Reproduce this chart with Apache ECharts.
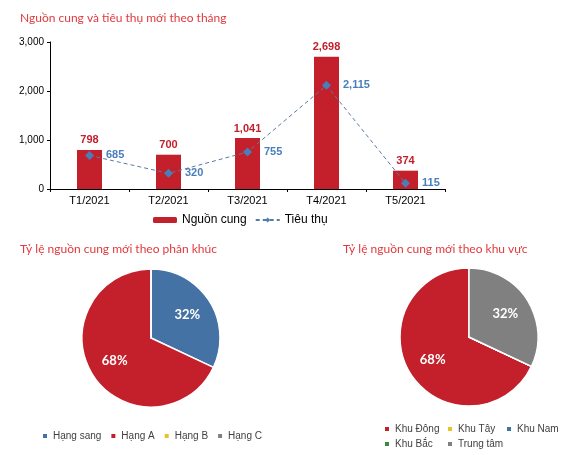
<!DOCTYPE html>
<html><head><meta charset="utf-8">
<script src="https://cdn.jsdelivr.net/npm/echarts@6/dist/echarts.min.js"></script>
<style>html,body{margin:0;padding:0;background:#fff}#c{width:567px;height:455px}</style>
</head><body><div id="c"></div>
<script>
const months = ['T1/2021','T2/2021','T3/2021','T4/2021','T5/2021'];
const supply = [798, 700, 1041, 2698, 374];
const sales = [685, 320, 755, 2115, 115];
const segNames = ['Hạng sang','Hạng A','Hạng B','Hạng C'];
const segValues = [32, 68, 0, 0];
const areaNames = ['Khu Đông','Khu Tây','Khu Nam','Khu Bắc','Trung tâm'];
const areaValues = [68, 0, 0, 0, 32];

const RED = '#C3202C', BLUE = '#4472A4', LBLUE = '#4A7EBB', GREY = '#808080', YEL = '#E8C228', GRN = '#3C8A3C';
const segColors = [BLUE, RED, YEL, GREY];
const areaColors = [RED, YEL, BLUE, GRN, GREY];
const font = 'Liberation Sans, Arial, sans-serif';
const tfont = 'Lato, Liberation Sans, sans-serif';
const fmt = v => v.toLocaleString('en-US');

const chart = echarts.init(document.getElementById('c'), null, {renderer:'canvas'});
const pieLabel = {show:true, position:'inside', color:'#fff', fontWeight:'bold', fontSize:13, fontFamily:tfont, formatter: p => p.value > 0 ? p.value + '%' : ''};
function pieSeries(names, vals, colors, center, clockwise) {
  const data = names.map((n,i)=>({name:n, value:vals[i], itemStyle:{color:colors[i]}}));
  return [
    {type:'pie', center:center, radius:[0,69], clockwise:clockwise, startAngle:90, data:data,
     itemStyle:{borderColor:'#fff', borderWidth:1.5}, label:{show:false}, labelLine:{show:false}, silent:true},
    {type:'pie', center:center, radius:[11,69], clockwise:clockwise, startAngle:90,
     data:names.map((n,i)=>({name:n, value:vals[i], itemStyle:{color:'rgba(0,0,0,0)'}})),
     label:pieLabel, labelLine:{show:false}, silent:true, z:5}
  ];
}
const lgText = {fontSize:10, fontFamily:font, color:'#404040'};
const smallLegend = (data, left, top, extra) => Object.assign({data:data, left:left, top:top, padding:0, itemWidth:6, itemHeight:6, icon:'rect', textStyle:lgText}, extra||{});
chart.setOption({
  animation:false,
  title:[
    {text:'Nguồn cung và tiêu thụ mới theo tháng', left:15, top:7, textStyle:{color:'#E03A3E', fontSize:12, fontWeight:'normal', fontFamily:tfont}},
    {text:'Tỷ lệ nguồn cung mới theo phân khúc', left:15, top:238, textStyle:{color:'#E03A3E', fontSize:12, fontWeight:'normal', fontFamily:tfont}},
    {text:'Tỷ lệ nguồn cung mới theo khu vực', left:338, top:238, textStyle:{color:'#E03A3E', fontSize:12, fontWeight:'normal', fontFamily:tfont}}
  ],
  legend:[
    {data:['Nguồn cung','Tiêu thụ'], left:148, top:209, itemWidth:24, itemHeight:6, itemGap:8, textStyle:{fontSize:12, fontFamily:font, color:'#000'}},
    smallLegend(segNames, 41, 431, {itemGap:8}),
    smallLegend(['Khu Đông','Khu Bắc'], 383, 424, {orient:'vertical', itemGap:5}),
    smallLegend(['Khu Tây','Trung tâm'], 446, 424, {orient:'vertical', itemGap:5}),
    smallLegend(['Khu Nam'], 505, 424)
  ],
  grid:{left:50, right:122, top:42, bottom:266, containLabel:false},
  xAxis:{type:'category', data:months, boundaryGap:true,
    axisLine:{lineStyle:{color:'#000', width:1}},
    axisTick:{show:true, length:3, lineStyle:{color:'#000'}},
    axisLabel:{color:'#000', fontSize:11, fontFamily:font, margin:6}},
  yAxis:{type:'value', min:0, max:3000, interval:1000,
    axisLine:{show:true, lineStyle:{color:'#000', width:1}},
    axisTick:{show:true, length:3, lineStyle:{color:'#000'}},
    splitLine:{show:false},
    axisLabel:{color:'#000', fontSize:10, fontFamily:font, margin:6, formatter:v=>fmt(v)}},
  series:[
    {name:'Nguồn cung', type:'bar', data:supply, barWidth:25, itemStyle:{color:RED},
     label:{show:true, position:'top', distance:4, color:'#C3202C', fontWeight:'bold', fontSize:11, fontFamily:font, formatter:p=>fmt(p.value)}},
    {name:'Tiêu thụ', type:'line', data:sales, symbol:'diamond', symbolSize:9, itemStyle:{color:LBLUE},
     lineStyle:{color:'#5A7BA0', width:1, type:[4,3]},
     label:{show:true, position:'right', distance:12, color:'#4A7EBB', fontWeight:'bold', fontSize:11, fontFamily:font, formatter:p=>fmt(p.value)}},
    ...pieSeries(segNames, segValues, segColors, [151,338], true),
    ...pieSeries(areaNames, areaValues, areaColors, [469,337], false)
  ]
});
</script></body></html>
